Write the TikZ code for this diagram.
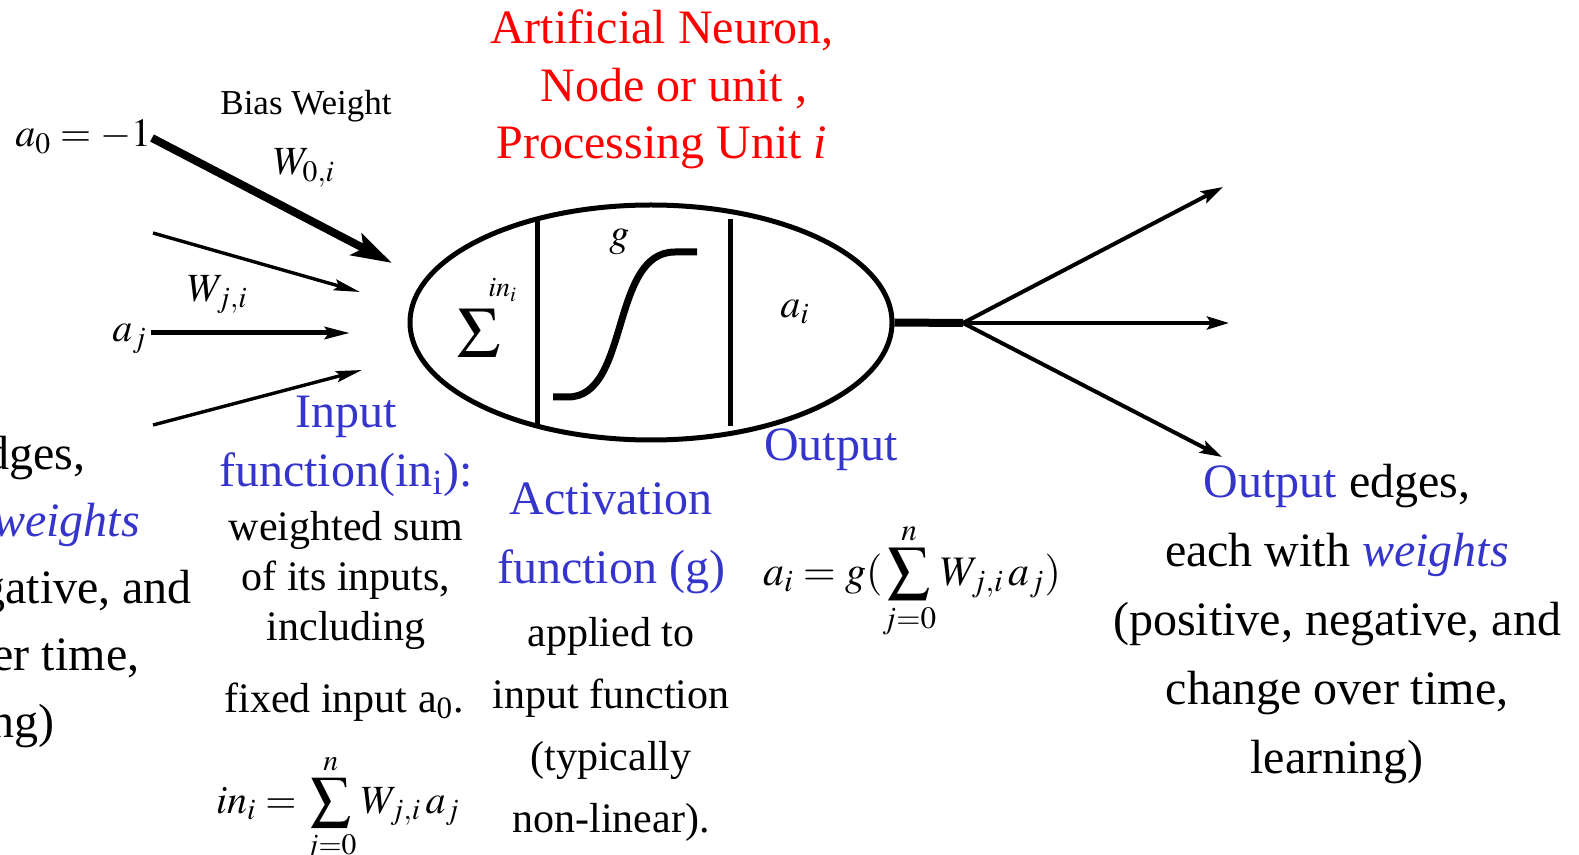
\documentclass[tikz,border=0pt]{standalone}
\usepackage{mathptmx}
\usepackage[no-math]{fontspec}
\setmainfont{Liberation Serif}
\usetikzlibrary{arrows.meta,shapes.geometric}
\definecolor{nnRed}{HTML}{FF0000}
\definecolor{nnBlue}{HTML}{3535CC}

\begin{document}
\begin{tikzpicture}[
  x=0.5pt, y=-0.5pt,
  txt/.style={align=center, anchor=base, inner sep=0pt},
  head/.style={txt, font=\fontsize{24}{34.5}\selectfont},
  body/.style={txt, font=\fontsize{21}{25}\selectfont},
  mlbl/.style={anchor=base west, inner sep=0pt, font=\fontsize{20}{20}\selectfont},
  neuron/.style={ellipse, draw, line width=2.5pt, minimum width=241pt, minimum height=117.5pt, inner sep=0pt},
  divider/.style={line width=2.5pt},
  thinin/.style={-{Stealth[length=13pt,width=5.5pt,inset=2pt]}, line width=1.7pt},
  ajin/.style={-{Stealth[length=12.5pt,width=6pt,inset=2pt]}, line width=2.5pt},
  biasin/.style={-{Stealth[length=20pt,width=12pt,inset=4pt]}, line width=4pt},
  outedge/.style={-{Stealth[length=11pt,width=6.5pt,inset=2pt]}, line width=2pt},
]
\useasboundingbox (0,0) rectangle (1579,855);
\clip (0,0) rectangle (1579,855);

% ---- Title (base = last line) ----
\node[txt, nnRed, font=\fontsize{24}{28.75}\selectfont] (title) at (662,159)
     {Artificial Neuron,\\\ \ Node or unit ,\\Processing Unit \textit{i}};

% ---- Inputs ----
\node[mlbl] (azero) at (15,147) {$a_0 = -1$};
\node[txt, font=\fontsize{17.5}{17.5}\selectfont] (biaslbl) at (306,115) {Bias Weight};
\node[mlbl] (wbias) at (273,175) {$W_{0,i}$};
\node[mlbl] (wji) at (187,302) {$W_{j,i}$};
\node[mlbl] (ajlbl) at (112,342) {$a_j$};

\coordinate (b0s) at (152,138);  \coordinate (b0e) at (392,263);
\coordinate (i1s) at (153,233);  \coordinate (i1e) at (360,292);
\coordinate (ajs) at (151,333);  \coordinate (aje) at (350,333);
\coordinate (i3s) at (153,425);  \coordinate (i3e) at (362,370);

\draw[biasin] (b0s) -- (b0e);
\draw[thinin] (i1s) -- (i1e);
\draw[ajin]   (ajs) -- (aje);
\draw[thinin] (i3s) -- (i3e);

% ---- Neuron ----
\node[neuron] (neuron) at (651,322.5) {};
\draw[divider] (neuron.center) ++(-114,-103) -- ++(0,206);
\draw[divider] (neuron.center) ++(79,-103) -- ++(0,207);

\node[inner sep=0pt, font=\fontsize{36}{36}\selectfont] (sigma) at (479,333) {$\Sigma$};
\node[mlbl, font=\fontsize{14}{14}\selectfont] (sigsup) at (488,297) {$in_i$};
\node[mlbl] (glbl) at (609,247) {$g$};
\draw[line width=3.5pt] (553,397) -- (568,397) .. controls (630,397) and (610,252) .. (675,252) -- (697,252);
\node[mlbl] (ailbl) at (780,318) {$a_i$};

% ---- Outputs ----
\coordinate (hub) at (963,323);
\draw[line width=4pt] (neuron.east) -- (hub);
\coordinate (o1) at (1223,187);
\coordinate (o2) at (1229,323);
\coordinate (o3) at (1222,457);
\draw[outedge] (hub) -- (o1);
\draw[outedge] (hub) -- (o2);
\draw[outedge] (hub) -- (o3);

% ---- Input function ----
\node[txt, nnBlue, font=\fontsize{24}{29.5}\selectfont] (inlbl) at (346,487)
     {Input\\function(in\textsubscript{i}):};
\node[body] (inbody) at (346,640) {weighted sum\\of its inputs,\\including};
\node[body] (infix) at (344,712) {fixed input a\textsubscript{0}.};
\node[txt, font=\fontsize{20}{20}\selectfont] (ineq) at (338,813)
     {$\displaystyle in_i = \sum_{j=0}^{n} W_{j,i}\, a_j$};

% ---- Activation ----
\node[head, nnBlue] (actlbl) at (611,583) {Activation\\function (g)};
\node[txt, font=\fontsize{21}{31}\selectfont] (actbody) at (611,832)
     {applied to\\input function\\(typically\\non-linear).};

% ---- Output ----
\node[head, nnBlue] (outlbl) at (831,460) {Output};
\node[txt, font=\fontsize{21}{21}\selectfont] (outeq) at (912,585)
     {$\displaystyle a_i = g(\sum_{j=0}^{n} W_{j,i}\, a_j)$};

% ---- Edges ----
\node[txt, font=\fontsize{24}{33.5}\selectfont] (inedges) at (-32,737)
     {\textcolor{nnBlue}{Input} edges,\\each with \textcolor{nnBlue}{\textit{weights}}\\(positive, negative, and\\change over time,\\learning)};
\node[head] (outedges) at (1337,773)
     {\textcolor{nnBlue}{Output} edges,\\each with \textcolor{nnBlue}{\textit{weights}}\\(positive, negative, and\\change over time,\\learning)};

\end{tikzpicture}
\end{document}
